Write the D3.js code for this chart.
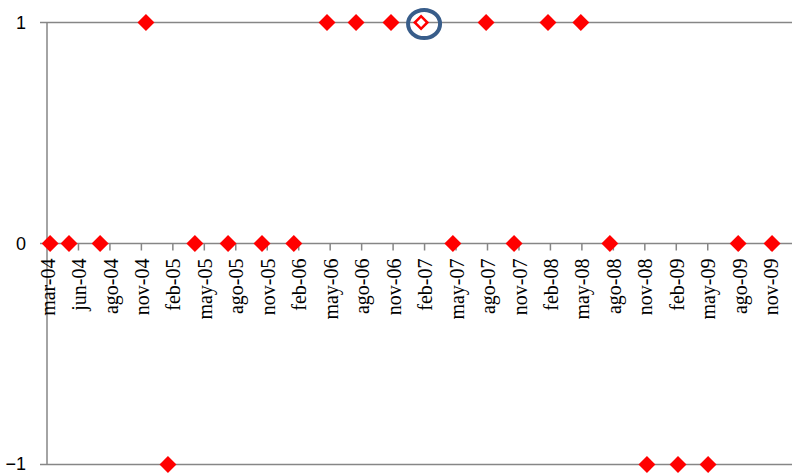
<!DOCTYPE html>
<html>
<head>
<meta charset="utf-8">
<script src="https://cdn.jsdelivr.net/npm/d3@7/dist/d3.min.js"></script>
<style>
  html, body { margin: 0; padding: 0; background: #ffffff; }
  svg { display: block; }
</style>
</head>
<body>
<svg id="chart" width="792" height="473"></svg>
<script>
// Signal observations (date, value in -1 / 0 / 1)
const obsDates = [
  "2004-03-12", "2004-05-05", "2004-08-02", "2004-12-11", "2005-02-12",
  "2005-04-30", "2005-08-03", "2005-11-08", "2006-02-07", "2006-05-13",
  "2006-08-04", "2006-11-12", "2007-02-06", "2007-05-08", "2007-08-11",
  "2007-10-30", "2008-02-04", "2008-05-08", "2008-07-30", "2008-11-13",
  "2009-02-10", "2009-05-07", "2009-08-01", "2009-11-06"
];
const obsValues = [
  0, 0, 0, 1, -1,
  0, 0, 0, 0, 1,
  1, 1, 1, 0, 1,
  0, 1, 1, 0, -1,
  -1, -1, 0, 0
];
// Observation shown hollow and circled
const highlightIndex = 12;

// Axis labels
const xTickLabels = [
  "mar-04", "jun-04", "ago-04", "nov-04", "feb-05", "may-05", "ago-05", "nov-05",
  "feb-06", "may-06", "ago-06", "nov-06", "feb-07", "may-07", "ago-07", "nov-07",
  "feb-08", "may-08", "ago-08", "nov-08", "feb-09", "may-09", "ago-09", "nov-09"
];
const xTickStepDays = 90;
const yTicks = [-1, 0, 1];

const parse = d3.timeParse("%Y-%m-%d");
const points = obsDates.map((d, i) => ({ date: parse(d), value: obsValues[i], i }));

const svg = d3.select("#chart");
const W = 792;
const H = 473;
const axisColor = "#868686";

const x = d3.scaleTime()
  .domain([parse("2004-03-03"), parse("2010-01-02")])
  .range([47, W]);
const y = d3.scaleLinear().domain([-1, 1]).range([464.5, 22.5]);

const tickDates = xTickLabels.map((_, i) => d3.timeDay.offset(x.domain()[0], xTickStepDays * i));

// Horizontal lines at each value level (with short outside ticks on the left)
svg.append("g")
  .selectAll("line")
  .data(yTicks)
  .join("line")
  .attr("x1", 40).attr("x2", W)
  .attr("y1", d => y(d)).attr("y2", d => y(d))
  .attr("stroke", axisColor).attr("stroke-width", 1.5);

// Vertical axis line
svg.append("line")
  .attr("x1", x.range()[0]).attr("x2", x.range()[0])
  .attr("y1", y(1)).attr("y2", y(-1))
  .attr("stroke", axisColor).attr("stroke-width", 1.5);

// Value labels (kept inside the bottom edge)
svg.append("g")
  .selectAll("text")
  .data(yTicks)
  .join("text")
  .attr("x", 26)
  .attr("y", d => Math.min(y(d) + 0.5, H - 9.5))
  .attr("dy", "0.35em")
  .attr("text-anchor", "end")
  .attr("font-family", "'Liberation Sans', Arial, sans-serif")
  .attr("font-size", 18)
  .attr("fill", "#000")
  .text(d => d3.format("d")(d));

// Date tick marks along the zero line
const y0 = y(0);
svg.append("g")
  .selectAll("line")
  .data(tickDates.slice(1))
  .join("line")
  .attr("x1", d => x(d)).attr("x2", d => x(d))
  .attr("y1", y0).attr("y2", y0 + 7)
  .attr("stroke", axisColor).attr("stroke-width", 1.5);

// Rotated date labels
svg.append("g")
  .selectAll("text")
  .data(tickDates)
  .join("text")
  .attr("transform", d => `translate(${x(d)},${y0 + 15}) rotate(-90)`)
  .attr("dy", "0.38em")
  .attr("text-anchor", "end")
  .attr("font-family", "'Liberation Serif', 'Times New Roman', serif")
  .attr("font-size", 20)
  .attr("fill", "#000")
  .text((d, i) => xTickLabels[i]);

// Diamond markers
const filled = d3.symbol().type(d3.symbolSquare).size(144);
const hollow = d3.symbol().type(d3.symbolSquare).size(78);

svg.append("g")
  .selectAll("path")
  .data(points)
  .join("path")
  .attr("transform", d => `translate(${x(d.date)},${y(d.value)}) rotate(45)`)
  .attr("d", d => d.i === highlightIndex ? hollow() : filled())
  .attr("fill", d => d.i === highlightIndex ? "#ffffff" : "#ff0000")
  .attr("stroke", d => d.i === highlightIndex ? "#ff0000" : "none")
  .attr("stroke-width", 2.6);

// Ring around the highlighted observation
const hp = points[highlightIndex];
svg.append("ellipse")
  .attr("cx", x(hp.date) + 3)
  .attr("cy", y(hp.value) + 1.5)
  .attr("rx", 16)
  .attr("ry", 14)
  .attr("fill", "none")
  .attr("stroke", "#385d8a")
  .attr("stroke-width", 4);
</script>
</body>
</html>
